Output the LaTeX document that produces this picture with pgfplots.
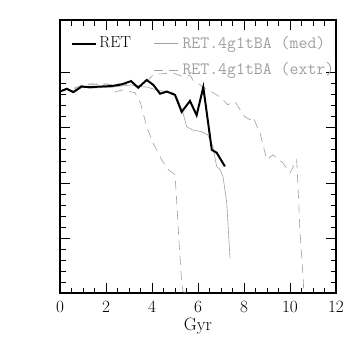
\documentclass[border=0pt]{standalone}
\usepackage{pgfplots}
\pgfplotsset{compat=1.18}
\definecolor{lg}{HTML}{A0A0A0}
\begin{document}
\fontsize{16}{19}\selectfont
\begin{tikzpicture}
\path[use as bounding box] (-60bp,-61bp) rectangle (294bp,293bp);
\begin{axis}[
  at={(0,0)}, anchor=south west,
  scale only axis, width=276bp, height=273bp,
  xmin=0, xmax=12, ymin=0, ymax=4.96,
  xtick={0,2,...,12}, minor x tick num=3,
  ytick={0,1,2,3,4}, minor y tick num=4,
  yticklabels={},
  tick align=inside, xtick pos=both, ytick pos=both,
  major tick length=10bp, minor tick length=5.5bp,
  axis line style={line width=1.2pt},
  every tick/.style={black, line width=0.8pt},
  xticklabel style={font=\fontsize{18}{21}\selectfont, yshift=-3bp},
  xlabel={Gyr},
  xlabel style={font=\fontsize{18}{21}\selectfont, yshift=5bp},
  legend columns=2,
  legend style={draw=none, fill=none, at={(0.03,0.955)}, anchor=north west,
    font=\fontsize{16}{19}\selectfont,
    /tikz/every even column/.append style={column sep=21bp},
    row sep=8bp},
  legend cell align=left,
  legend image code/.code={\draw[#1] (0bp,0bp) -- (24bp,0bp);},
]
\addlegendimage{black, line width=2pt}
\addlegendentry{RET}
\addlegendimage{lg, line width=0.6pt}
\addlegendentry{\hspace{2bp}\textcolor{lg}{\fontsize{17.4}{20}\selectfont\ttfamily RET.4g1tBA (med)}}
\addlegendimage{empty legend}
\addlegendentry{}
\addlegendimage{lg, line width=0.6pt, dash pattern=on 9bp off 6bp}
\addlegendentry{\hspace{2bp}\textcolor{lg}{\fontsize{17.4}{20}\selectfont\ttfamily RET.4g1tBA (extr)}}

% extr 1
\addplot[lg, line width=0.6pt, dash pattern=on 9bp off 6bp, forget plot] coordinates {
(0,3.66) (0.3,3.70) (0.6,3.72) (0.94,3.77) (1.3,3.80) (1.74,3.79) (2.0,3.80)
(2.30,3.75) (2.39,3.65) (2.70,3.69) (3.0,3.66) (3.26,3.64) (3.5,3.45) (3.77,3.02)
(4.04,2.73) (4.42,2.42) (4.71,2.24) (5.00,2.15) (5.07,1.69) (5.17,0.96) (5.29,0.20)
(5.35,0.02) (5.72,0.0)};
% extr 2
\addplot[lg, line width=0.6pt, dash pattern=on 9bp off 6bp, forget plot] coordinates {
(0,3.66) (0.3,3.72) (0.6,3.70) (0.94,3.78) (1.3,3.79) (1.74,3.80) (2.25,3.79)
(2.68,3.80) (3.09,3.78) (3.5,3.76) (3.77,3.84) (4.04,3.96) (4.35,3.98) (4.91,4.0)
(5.35,3.93) (5.65,3.96) (5.78,3.87) (6.2,3.75) (6.65,3.64) (7.0,3.55) (7.3,3.42)
(7.6,3.48) (8.04,3.2) (8.26,3.15) (8.39,3.2) (8.7,2.9) (8.99,2.42) (9.26,2.51)
(9.7,2.36) (10.0,2.18) (10.29,2.42) (10.35,1.93) (10.43,1.15) (10.57,0.29) (10.6,0.0)};
% med
\addplot[lg, line width=0.6pt, forget plot] coordinates {
(0,3.66) (0.3,3.70) (0.6,3.67) (0.94,3.74) (1.3,3.72) (1.74,3.73) (2.25,3.74)
(2.68,3.76) (3.09,3.78) (3.48,3.75) (3.8,3.74) (4.2,3.69) (4.6,3.66) (4.91,3.64)
(5.13,3.51) (5.35,3.27) (5.51,3.02) (5.78,2.96) (6.16,2.93) (6.43,2.87) (6.65,2.66)
(6.81,2.30) (6.96,2.24) (7.09,2.11) (7.25,1.64) (7.39,0.64)};
% RET
\addplot[black, line width=2pt, forget plot] coordinates {
(0,3.66) (0.29,3.71) (0.58,3.65) (0.94,3.75) (1.30,3.74) (1.74,3.75) (2.25,3.76)
(2.68,3.79) (3.09,3.85) (3.40,3.73) (3.77,3.87) (4.06,3.78) (4.35,3.62) (4.64,3.66)
(5.00,3.60) (5.29,3.29) (5.65,3.49) (5.94,3.23) (6.23,3.74) (6.6,2.6) (6.81,2.55)
(7.17,2.30)};
\end{axis}
\end{tikzpicture}
\end{document}
